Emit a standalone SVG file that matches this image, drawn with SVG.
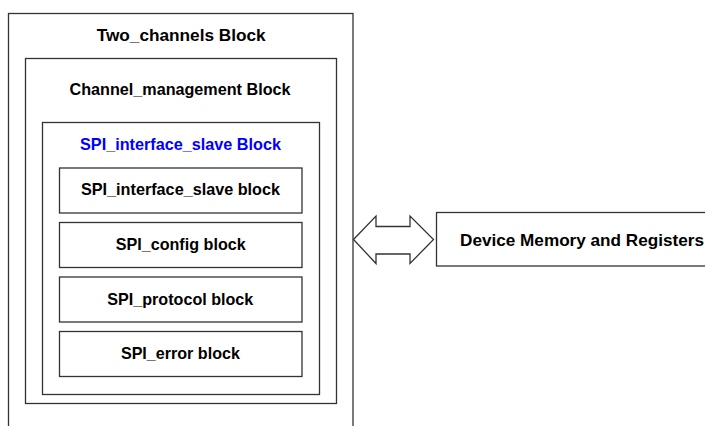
<svg xmlns="http://www.w3.org/2000/svg" width="705" height="426" viewBox="0 0 705 426">
<style>
.box{fill:#fff;stroke:#333;stroke-width:1.3}
.lbl{font-family:"Liberation Sans",Arial,sans-serif;font-weight:bold;font-size:17.3px;fill:#000;text-anchor:middle}
.blue{fill:#0000ff}
</style>
<rect width="705" height="426" fill="#fff"/>
<g id="two_channels">
<rect class="box" x="8.5" y="13.5" width="344.5" height="430"/>
<text class="lbl" x="181.2" y="40.5" textLength="169" lengthAdjust="spacingAndGlyphs">Two_channels Block</text>
</g>
<g id="channel_management">
<rect class="box" x="25.5" y="58.5" width="311" height="345"/>
<text class="lbl" x="180" y="95" textLength="221" lengthAdjust="spacingAndGlyphs">Channel_management Block</text>
</g>
<g id="spi_interface_slave_outer">
<rect class="box" x="42.5" y="122.5" width="277" height="272"/>
<text class="lbl blue" x="180.5" y="149.5" textLength="201" lengthAdjust="spacingAndGlyphs">SPI_interface_slave Block</text>
</g>
<g id="spi_interface_slave">
<rect class="box" x="59.5" y="168" width="242.5" height="45"/>
<text class="lbl" x="180.5" y="194.5" textLength="199" lengthAdjust="spacingAndGlyphs">SPI_interface_slave block</text>
</g>
<g id="spi_config">
<rect class="box" x="59.5" y="222.5" width="242.5" height="45"/>
<text class="lbl" x="180.7" y="250" textLength="130" lengthAdjust="spacingAndGlyphs">SPI_config block</text>
</g>
<g id="spi_protocol">
<rect class="box" x="59.5" y="277" width="242.5" height="45"/>
<text class="lbl" x="180.3" y="304.5" textLength="146" lengthAdjust="spacingAndGlyphs">SPI_protocol block</text>
</g>
<g id="spi_error">
<rect class="box" x="59.5" y="331.5" width="242.5" height="45"/>
<text class="lbl" x="180.4" y="358.5" textLength="119" lengthAdjust="spacingAndGlyphs">SPI_error block</text>
</g>
<g id="device_memory">
<rect class="box" x="436.5" y="212.5" width="300" height="53.5"/>
<text class="lbl" x="460" y="245.5" style="text-anchor:start" textLength="244" lengthAdjust="spacingAndGlyphs">Device Memory and Registers</text>
</g>
<g id="connectors">
<path class="box" d="M353.5,239.5 L376,216 L376,226.5 L410,226.5 L410,216 L433.5,239.5 L410,263.5 L410,254 L376,254 L376,263.5 Z"/>
</g>
</svg>
